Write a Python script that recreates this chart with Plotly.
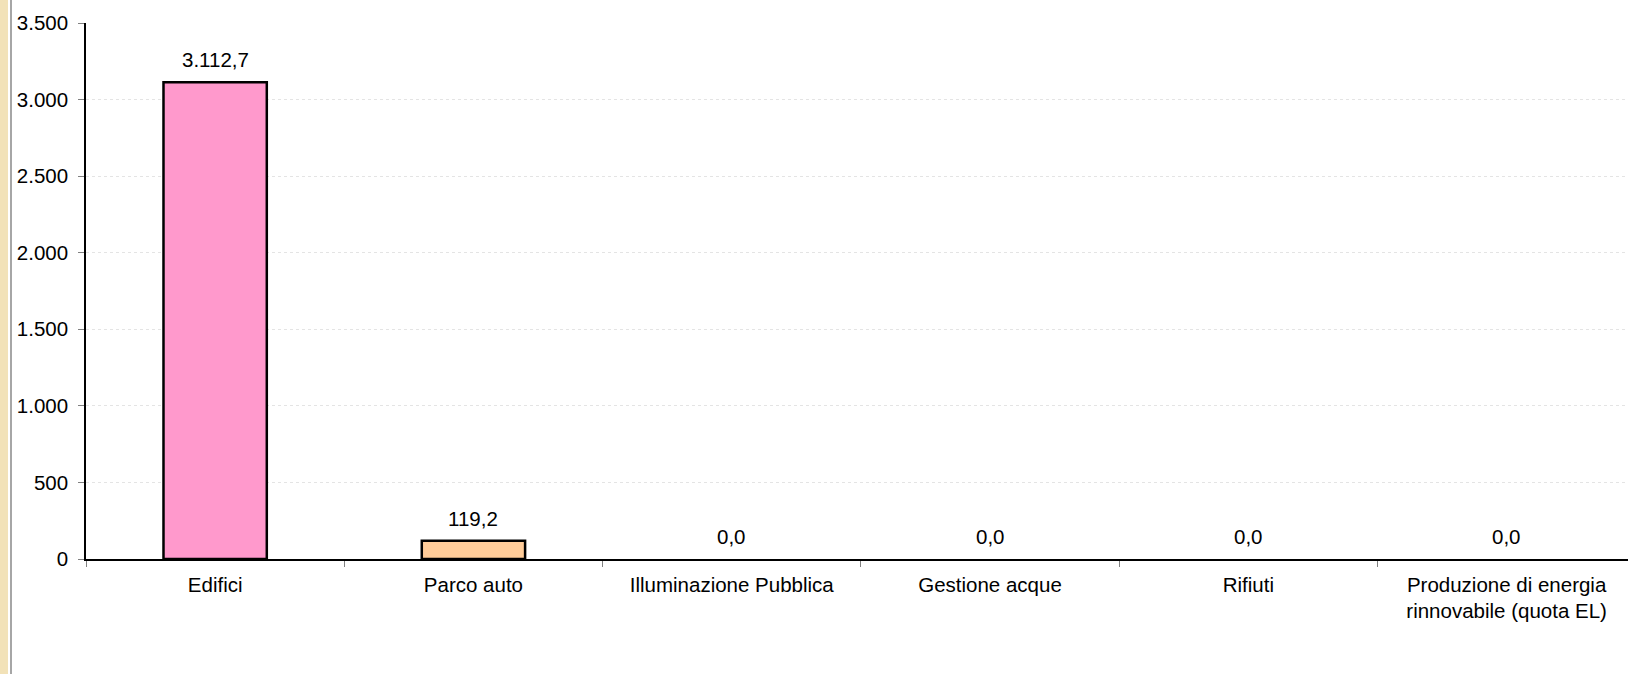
import plotly.graph_objects as go

categories = ["Edifici", "Parco auto", "Illuminazione Pubblica", "Gestione acque", "Rifiuti",
              "Produzione di energia<br>rinnovabile (quota EL)"]
values = [3112.7, 119.2, 0.0, 0.0, 0.0, 0.0]
colors = ["#FF99CC", "#FFCC99", "#FF99CC", "#FF99CC", "#FF99CC", "#FF99CC"]
labels = ["3.112,7", "119,2", "0,0", "0,0", "0,0", "0,0"]
y_ticks = [0, 500, 1000, 1500, 2000, 2500, 3000, 3500]

FONT = "Liberation Sans, Arial, sans-serif"
FS = 20.5

fig = go.Figure()
fig.add_trace(go.Bar(
    x=categories, y=values, width=0.4,
    marker=dict(color=colors,
                line=dict(color="#000000", width=[2.5 if v > 0 else 0 for v in values])),
    hoverinfo="skip",
))

for c, v, t in zip(categories, values, labels):
    fig.add_annotation(x=c, y=v, text=t, showarrow=False, yanchor="bottom", yshift=9,
                       font=dict(family=FONT, size=FS, color="#000000"))

# left decorative border
fig.add_shape(type="rect", xref="paper", yref="paper", xsizemode="pixel", xanchor=0,
              x0=-86, x1=-78, y0=-1, y1=2, fillcolor="#F2E2B8", line=dict(width=0), layer="below")
fig.add_shape(type="rect", xref="paper", yref="paper", xsizemode="pixel", xanchor=0,
              x0=-76, x1=-74, y0=-1, y1=2, fillcolor="#A6A6A6", line=dict(width=0), layer="below")

fig.update_layout(
    width=1628, height=674,
    margin=dict(l=86, r=0, t=23, b=115, pad=0),
    paper_bgcolor="#FFFFFF", plot_bgcolor="#FFFFFF",
    separators=",.",
    showlegend=False,
    font=dict(family=FONT, size=FS, color="#000000"),
)
fig.update_xaxes(
    type="category", range=[-0.5, 5.47],
    showline=True, linecolor="#000000", linewidth=2,
    ticks="outside", tickson="boundaries", ticklen=6, tickcolor="#808080", tickwidth=1,
    showgrid=False, tickfont=dict(family=FONT, size=FS, color="#000000"),
    ticklabelstandoff=6,
    fixedrange=True,
)
fig.update_yaxes(
    range=[0, 3500], tickvals=y_ticks, tickformat=",d",
    showline=True, linecolor="#000000", linewidth=1.5,
    ticks="outside", ticklen=6, tickcolor="#808080", tickwidth=1,
    showgrid=True, gridcolor="#E4E4E4", griddash="dot", gridwidth=1,
    zeroline=False, tickfont=dict(family=FONT, size=FS, color="#000000"),
    ticklabelstandoff=6,
    fixedrange=True,
)

fig.write_html("out.html", config={"displayModeBar": False},
               post_script="document.body.style.margin='0';")
